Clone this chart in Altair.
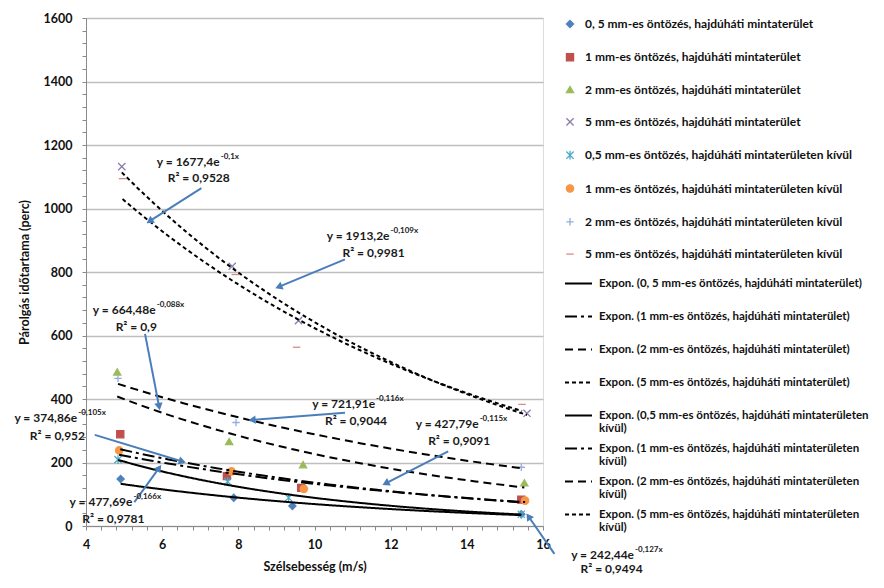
import math
import altair as alt
import pandas as pd

# ---------------- data ----------------
series_names = [
    "0, 5 mm-es öntözés, hajdúháti mintaterület",
    "1 mm-es öntözés, hajdúháti mintaterület",
    "2 mm-es öntözés, hajdúháti mintaterület",
    "5 mm-es öntözés, hajdúháti mintaterület",
    "0,5 mm-es öntözés, hajdúháti mintaterületen kívül",
    "1 mm-es öntözés, hajdúháti mintaterületen kívül",
    "2 mm-es öntözés, hajdúháti mintaterületen kívül",
    "5 mm-es öntözés, hajdúháti mintaterületen kívül",
]
x_s1 = [4.91, 7.88, 9.42, 15.43]
y_s1 = [148, 89, 63, 37]
x_s2 = [4.90, 7.70, 9.65, 15.43]
y_s2 = [289, 157, 120, 83]
x_s3 = [4.82, 7.76, 9.70, 15.51]
y_s3 = [485, 266, 193, 136]
x_s4 = [4.94, 7.84, 9.58, 15.58]
y_s4 = [1132, 818, 647, 355]
x_s5 = [4.84, 7.72, 9.32, 15.43]
y_s5 = [209, 140, 89, 37]
x_s6 = [4.87, 7.82, 9.72, 15.53]
y_s6 = [238, 172, 117, 80]
x_s7 = [4.84, 7.94, 15.43]
y_s7 = [465, 326, 185]
x_s8 = [4.96, 7.92, 9.53, 15.45]
y_s8 = [1094, 792, 563, 383]

xs = [x_s1, x_s2, x_s3, x_s4, x_s5, x_s6, x_s7, x_s8]
ys = [y_s1, y_s2, y_s3, y_s4, y_s5, y_s6, y_s7, y_s8]

# trendline equation labels (as printed)
eq_main = ["y = 1677,4e", "y = 1913,2e", "y = 664,48e", "y = 721,91e",
           "y = 374,86e", "y = 477,69e", "y = 427,79e", "y = 242,44e"]
eq_sup = ["-0,1x", "-0,109x", "-0,088x", "-0,116x",
          "-0,105x", "-0,166x", "-0,115x", "-0,127x"]
eq_r2 = ["R² = 0,9528", "R² = 0,9981", "R² = 0,9", "R² = 0,9044",
         "R² = 0,952", "R² = 0,9781", "R² = 0,9091", "R² = 0,9494"]
eq_x = [7.51, 11.97, 5.83, 11.59, 3.77, 5.22, 14.31, 18.39]
eq_y = [1146, 913, 680, 384, 339, 75, 321, -92]
r2_x = [6.96, 11.55, 5.32, 11.09, 3.25, 4.72, 13.80, 17.80]
r2_y = [1095, 861, 628, 332, 282, 23, 268, -137]
arrow_x1 = [7.03, 10.80, 5.55, 10.80, 4.23, 5.27, 13.51, 16.30]
arrow_y1 = [1064, 840, 605, 357, 287, 75, 235, -88]
arrow_x2 = [5.67, 9.06, 5.92, 8.36, 6.53, 5.92, 11.87, 15.62]
arrow_y2 = [960, 753, 376, 334, 203, 183, 134, 30]

# ---------------- styling ----------------
W, H = 457, 508
X_DOM = [4, 16]
Y_DOM = [0, 1600]
FONT = "Lato"

color_range = ["#4F81BD", "#C0504D", "#9BBB59", "#8C7DAA",
               "#4BACC6", "#F79646", "#93AEDA", "#DA8A88"]
X_PATH = "M-1,-1L1,1M-1,1L1,-1"
AST_PATH = "M-1,-1L1,1M-1,1L1,-1M0,-1.2L0,1.2"
PLUS_PATH = "M-1,0L1,0M0,-1L0,1"
DASH_PATH = "M-1,0L1,0"
shape_range = ["diamond", "square", "triangle-up", X_PATH,
               AST_PATH, "circle", PLUS_PATH, DASH_PATH]
size_range = [50, 55, 60, 80, 70, 75, 60, 30]

trend_names = ["Expon. (" + s + ")" for s in series_names]
dash_range = [[1, 0], [12, 4, 3, 4], [8, 5], [4, 3],
              [1, 0], [12, 4, 3, 4], [8, 5], [4, 3]]

rows = []
for name, xv, yv in zip(series_names, xs, ys):
    for a, b in zip(xv, yv):
        rows.append({"series": name, "x": a, "y": b})
pts = pd.DataFrame(rows)

px_x = W / (X_DOM[1] - X_DOM[0])
px_y = H / (Y_DOM[1] - Y_DOM[0])
angles = []
for a1, b1, a2, b2 in zip(arrow_x1, arrow_y1, arrow_x2, arrow_y2):
    dx = (a2 - a1) * px_x
    dy = -(b2 - b1) * px_y
    angles.append(math.degrees(math.atan2(dx, -dy)) % 360)

ann = pd.DataFrame({"ex": eq_x, "ey": eq_y, "main": eq_main, "sup": eq_sup,
                    "rx": r2_x, "ry": r2_y, "r2": eq_r2})
arr = pd.DataFrame({"ax1": arrow_x1, "ay1": arrow_y1, "ax2": arrow_x2,
                    "ay2": arrow_y2, "ang": angles})

x_ticks = [round(4 + 0.4 * i, 1) for i in range(31)]
y_ticks = list(range(0, 1601, 40))

xscale = alt.Scale(domain=X_DOM, nice=False, zero=False)
yscale = alt.Scale(domain=Y_DOM, nice=False, zero=False)

xaxis = alt.Axis(
    values=x_ticks,
    labelExpr="abs(datum.value - round(datum.value/2)*2) < 0.01 ? format(datum.value, 'd') : ''",
    grid=False, tickSize=4, tickColor="#8A8A8A", domainColor="#8A8A8A",
    labelFont=FONT, labelFontSize=12.5, labelFontWeight="bold", labelColor="#111",
    labelPadding=8, labelOverlap=False, labelFlush=False,
    titleFont=FONT, titleFontSize=12.5, titleFontWeight="bold", titleColor="#111",
    titlePadding=10,
)
yaxis = alt.Axis(
    values=y_ticks,
    labelExpr="datum.value % 200 == 0 ? format(datum.value, 'd') : ''",
    grid=True, gridColor="#BEBEBE", gridWidth=1.5,
    gridOpacity=alt.condition("datum.value % 200 == 0", alt.value(1), alt.value(0)),
    tickSize=4, tickColor="#8A8A8A", domainColor="#8A8A8A",
    labelFont=FONT, labelFontSize=12.5, labelFontWeight="bold", labelColor="#111",
    labelPadding=10, labelOverlap=False,
    titleFont=FONT, titleFontSize=12.5, titleFontWeight="bold", titleColor="#111",
    titlePadding=12,
)
X_TITLE = "Szélsebesség (m/s)"
Y_TITLE = "Párolgás időtartama (perc)"


def xe(f):
    return alt.X(f"{f}:Q", scale=xscale, axis=xaxis, title=X_TITLE)


def ye(f):
    return alt.Y(f"{f}:Q", scale=yscale, axis=yaxis, title=Y_TITLE)


leg_markers = alt.Legend(
    title=None, orient="right", offset=21, padding=0, rowPadding=19.3,
    labelOffset=9, labelLimit=400, labelFont=FONT, labelFontSize=12,
    labelFontWeight="bold", labelColor="#111", symbolStrokeWidth=1.3,
)
leg_lines = alt.Legend(
    title=None, orient="right", offset=10, padding=0, rowPadding=0,
    gridAlign="all",
    symbolType="stroke", symbolSize=729, symbolStrokeWidth=2,
    symbolStrokeColor="black",
    labelOffset=6, labelLimit=400, labelFont=FONT, labelFontSize=11.5,
    labelFontWeight="bold", labelColor="#111",
    labelExpr="indexof(datum.label, ' kívül)') > 0 ? [replace(datum.label, ' kívül)', ''), 'kívül)'] : datum.label",
)

sdom = series_names
points = alt.Chart(pts).mark_point(filled=True, strokeWidth=1.3, opacity=1).encode(
    x=xe("x"), y=ye("y"),
    color=alt.Color("series:N", scale=alt.Scale(domain=sdom, range=color_range), legend=leg_markers),
    stroke=alt.Stroke("series:N", scale=alt.Scale(domain=sdom, range=color_range), legend=leg_markers),
    shape=alt.Shape("series:N", scale=alt.Scale(domain=sdom, range=shape_range), legend=leg_markers),
    size=alt.Size("series:N", scale=alt.Scale(domain=sdom, range=size_range), legend=leg_markers),
)

# Excel-style exponential trend: least squares of ln(y) on x, fitted by Vega
trend = (
    alt.Chart(pts)
    .transform_calculate(ly="log(datum.y)")
    .transform_regression("x", "ly", method="poly", order=1, groupby=["series"])
    .transform_calculate(yfit="exp(datum.ly)",
                         trend="'Expon. (' + datum.series + ')'")
    .mark_line(color="black", strokeWidth=2)
    .encode(
        x=xe("x"), y=ye("yfit"),
        strokeDash=alt.StrokeDash("trend:N", scale=alt.Scale(domain=trend_names, range=dash_range), legend=leg_lines),
    )
)

arrow_lines = alt.Chart(arr).mark_rule(color="#4A7EBB", strokeWidth=2).encode(
    x=xe("ax1"), y=ye("ay1"), x2="ax2:Q", y2="ay2:Q"
)
arrow_heads = alt.Chart(arr).mark_point(shape="triangle-up", filled=True, color="#4A7EBB",
                                        size=70, opacity=1).encode(
    x=xe("ax2"), y=ye("ay2"), angle=alt.Angle("ang:Q", scale=None)
)

txt = dict(font=FONT, fontWeight="bold", color="#1A1A1A")
eq_text = alt.Chart(ann).mark_text(align="right", baseline="middle", fontSize=12, **txt).encode(
    x=xe("ex"), y=ye("ey"), text="main:N"
)
sup_text = alt.Chart(ann).mark_text(align="left", baseline="middle", dy=-5, dx=1, fontSize=8, **txt).encode(
    x=xe("ex"), y=ye("ey"), text="sup:N"
)
r2_text = alt.Chart(ann).mark_text(align="center", baseline="middle", fontSize=12, **txt).encode(
    x=xe("rx"), y=ye("ry"), text="r2:N"
)

chart = (
    alt.layer(points, trend, arrow_lines, arrow_heads, eq_text, sup_text, r2_text)
    .properties(
        width=W, height=H,
        autosize=alt.AutoSizeParams(type="none"),
        padding={"left": 78, "top": 10, "right": 333, "bottom": 54},
    )
    .configure_view(stroke=None)
    .configure(font=FONT, style={"guide-label": {"lineHeight": 13}})
)

chart.save("out.html", embed_options={"renderer": "svg", "actions": False})
